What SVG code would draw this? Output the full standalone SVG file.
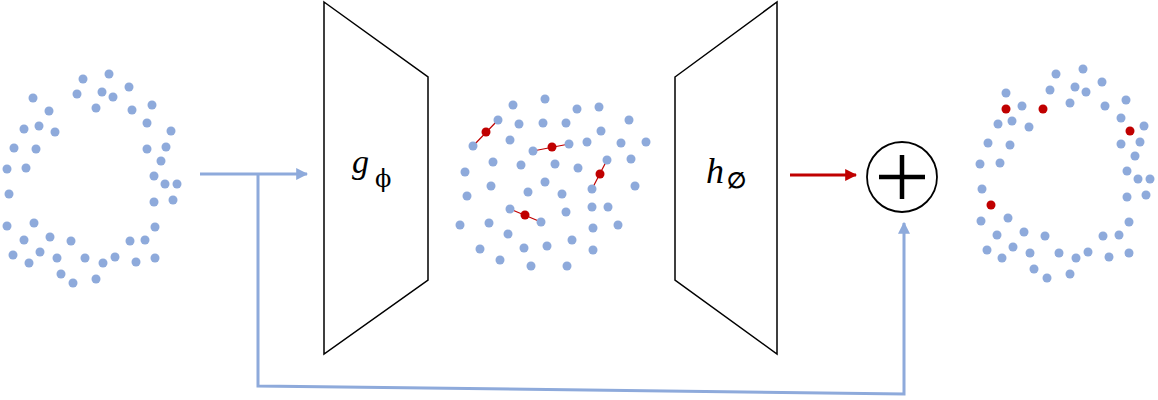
<svg xmlns="http://www.w3.org/2000/svg" width="1158" height="400" viewBox="0 0 1158 400">
<defs>
<style>
.b{fill:#8eaadb}
.r{fill:#c00000}
.trap{fill:#fff;stroke:#000;stroke-width:1.5}
.lbl{font-family:"Liberation Serif","DejaVu Serif",serif;font-style:italic;fill:#000}
.sub{font-family:"DejaVu Serif","Liberation Serif",serif;fill:#000}
.bl{fill:none;stroke:#8eaadb;stroke-width:3}
.rl{fill:none;stroke:#c00000;stroke-width:3}
.rthin{fill:none;stroke:#c00000;stroke-width:1.2}
</style>
<marker id="ab" viewBox="0 0 10 10" refX="9" refY="5" markerWidth="4" markerHeight="4" orient="auto" markerUnits="strokeWidth"><path d="M0,0 L10,5 L0,10 z" fill="#8eaadb"/></marker>
<marker id="ar" viewBox="0 0 10 10" refX="9" refY="5" markerWidth="4" markerHeight="4" orient="auto" markerUnits="strokeWidth"><path d="M0,0 L10,5 L0,10 z" fill="#c00000"/></marker>
</defs>
<rect width="1158" height="400" fill="#fff"/>

<g id="connectors">
<path class="bl" d="M200,174 L307,174" marker-end="url(#ab)"/>
<path class="bl" d="M258,174 L258,386 L904,394 L904,223" marker-end="url(#ab)"/>
<path class="rl" d="M790,175 L856,175" marker-end="url(#ar)"/>
</g>

<g id="input-ring">
<circle class="b" cx="83" cy="79" r="4.5"/><circle class="b" cx="109" cy="74" r="4.5"/><circle class="b" cx="33" cy="98" r="4.5"/><circle class="b" cx="77" cy="94" r="4.5"/><circle class="b" cx="102" cy="92" r="4.5"/><circle class="b" cx="113" cy="97" r="4.5"/><circle class="b" cx="129" cy="87" r="4.5"/><circle class="b" cx="49" cy="111" r="4.5"/><circle class="b" cx="96" cy="108" r="4.5"/><circle class="b" cx="132" cy="110" r="4.5"/><circle class="b" cx="152" cy="105" r="4.5"/><circle class="b" cx="24" cy="129" r="4.5"/><circle class="b" cx="39" cy="126" r="4.5"/><circle class="b" cx="55" cy="132" r="4.5"/><circle class="b" cx="147" cy="123" r="4.5"/><circle class="b" cx="171" cy="131" r="4.5"/><circle class="b" cx="14" cy="148" r="4.5"/><circle class="b" cx="36" cy="149" r="4.5"/><circle class="b" cx="147" cy="149" r="4.5"/><circle class="b" cx="166" cy="147" r="4.5"/><circle class="b" cx="161" cy="161" r="4.5"/><circle class="b" cx="7" cy="169" r="4.5"/><circle class="b" cx="26" cy="168" r="4.5"/><circle class="b" cx="154" cy="176" r="4.5"/><circle class="b" cx="165" cy="184" r="4.5"/><circle class="b" cx="177" cy="184" r="4.5"/><circle class="b" cx="9" cy="194" r="4.5"/><circle class="b" cx="154" cy="202" r="4.5"/><circle class="b" cx="173" cy="200" r="4.5"/><circle class="b" cx="7" cy="226" r="4.5"/><circle class="b" cx="34" cy="223" r="4.5"/><circle class="b" cx="155" cy="227" r="4.5"/><circle class="b" cx="24" cy="240" r="4.5"/><circle class="b" cx="50" cy="237" r="4.5"/><circle class="b" cx="71" cy="241" r="4.5"/><circle class="b" cx="130" cy="241" r="4.5"/><circle class="b" cx="145" cy="240" r="4.5"/><circle class="b" cx="13" cy="255" r="4.5"/><circle class="b" cx="40" cy="252" r="4.5"/><circle class="b" cx="29" cy="263" r="4.5"/><circle class="b" cx="57" cy="258" r="4.5"/><circle class="b" cx="85" cy="258" r="4.5"/><circle class="b" cx="103" cy="263" r="4.5"/><circle class="b" cx="115" cy="257" r="4.5"/><circle class="b" cx="136" cy="262" r="4.5"/><circle class="b" cx="155" cy="258" r="4.5"/><circle class="b" cx="61" cy="274" r="4.5"/><circle class="b" cx="73" cy="283" r="4.5"/><circle class="b" cx="96" cy="279" r="4.5"/>
</g>

<g id="encoder">
<polygon class="trap" points="324,2 428,77 428,280 324,354"/>
<text class="lbl" x="352" y="173" font-size="34">g</text>
<text class="sub" x="375" y="187" font-size="24">ϕ</text>
</g>

<g id="latent">
<path class="rthin" d="M498,120 L473,146 M533,151 L569,144 M607,160 L592,189 M510,209 L541,222"/>
<circle class="b" cx="513" cy="105" r="4.5"/><circle class="b" cx="545" cy="99" r="4.5"/><circle class="b" cx="577" cy="109" r="4.5"/><circle class="b" cx="599" cy="107" r="4.5"/><circle class="b" cx="498" cy="120" r="4.5"/><circle class="b" cx="519" cy="124" r="4.5"/><circle class="b" cx="543" cy="123" r="4.5"/><circle class="b" cx="566" cy="123" r="4.5"/><circle class="b" cx="629" cy="120" r="4.5"/><circle class="b" cx="473" cy="146" r="4.5"/><circle class="b" cx="510" cy="140" r="4.5"/><circle class="b" cx="601" cy="131" r="4.5"/><circle class="b" cx="533" cy="151" r="4.5"/><circle class="b" cx="569" cy="144" r="4.5"/><circle class="b" cx="587" cy="142" r="4.5"/><circle class="b" cx="621" cy="143" r="4.5"/><circle class="b" cx="646" cy="142" r="4.5"/><circle class="b" cx="493" cy="162" r="4.5"/><circle class="b" cx="521" cy="165" r="4.5"/><circle class="b" cx="555" cy="164" r="4.5"/><circle class="b" cx="578" cy="168" r="4.5"/><circle class="b" cx="607" cy="160" r="4.5"/><circle class="b" cx="631" cy="159" r="4.5"/><circle class="b" cx="465" cy="172" r="4.5"/><circle class="b" cx="545" cy="182" r="4.5"/><circle class="b" cx="491" cy="186" r="4.5"/><circle class="b" cx="635" cy="186" r="4.5"/><circle class="b" cx="467" cy="196" r="4.5"/><circle class="b" cx="528" cy="192" r="4.5"/><circle class="b" cx="562" cy="194" r="4.5"/><circle class="b" cx="592" cy="189" r="4.5"/><circle class="b" cx="510" cy="209" r="4.5"/><circle class="b" cx="541" cy="222" r="4.5"/><circle class="b" cx="566" cy="212" r="4.5"/><circle class="b" cx="592" cy="207" r="4.5"/><circle class="b" cx="608" cy="207" r="4.5"/><circle class="b" cx="460" cy="225" r="4.5"/><circle class="b" cx="489" cy="223" r="4.5"/><circle class="b" cx="508" cy="234" r="4.5"/><circle class="b" cx="593" cy="228" r="4.5"/><circle class="b" cx="618" cy="225" r="4.5"/><circle class="b" cx="480" cy="249" r="4.5"/><circle class="b" cx="524" cy="248" r="4.5"/><circle class="b" cx="547" cy="246" r="4.5"/><circle class="b" cx="572" cy="240" r="4.5"/><circle class="b" cx="593" cy="250" r="4.5"/><circle class="b" cx="500" cy="260" r="4.5"/><circle class="b" cx="531" cy="266" r="4.5"/><circle class="b" cx="567" cy="266" r="4.5"/>
<circle class="r" cx="486" cy="132" r="4.5"/><circle class="r" cx="552" cy="147" r="4.5"/><circle class="r" cx="600" cy="174" r="4.5"/><circle class="r" cx="525" cy="215" r="4.5"/>
</g>

<g id="decoder">
<polygon class="trap" points="675,77 777,2 777,354 675,280"/>
<text class="lbl" x="706" y="183" font-size="36">h</text>
<text class="sub" x="727" y="188" font-size="22" font-weight="bold">∅</text>
</g>

<g id="sum">
<circle cx="902" cy="177" r="35" fill="#fff" stroke="#000" stroke-width="1.8"/>
<path d="M879,177 L925,177 M902,155 L902,199" stroke="#000" stroke-width="4.5" fill="none"/>
</g>

<g id="output-ring">
<circle class="b" cx="1056" cy="74" r="4.5"/><circle class="b" cx="1083" cy="69" r="4.5"/><circle class="b" cx="1006" cy="93" r="4.5"/><circle class="b" cx="1050" cy="90" r="4.5"/><circle class="b" cx="1075" cy="87" r="4.5"/><circle class="b" cx="1086" cy="92" r="4.5"/><circle class="b" cx="1102" cy="82" r="4.5"/><circle class="b" cx="1022" cy="106" r="4.5"/><circle class="b" cx="1070" cy="103" r="4.5"/><circle class="b" cx="1105" cy="106" r="4.5"/><circle class="b" cx="1126" cy="100" r="4.5"/><circle class="b" cx="998" cy="124" r="4.5"/><circle class="b" cx="1012" cy="121" r="4.5"/><circle class="b" cx="1029" cy="127" r="4.5"/><circle class="b" cx="1121" cy="118" r="4.5"/><circle class="b" cx="1144" cy="126" r="4.5"/><circle class="b" cx="988" cy="143" r="4.5"/><circle class="b" cx="1010" cy="145" r="4.5"/><circle class="b" cx="1121" cy="144" r="4.5"/><circle class="b" cx="1140" cy="142" r="4.5"/><circle class="b" cx="1135" cy="156" r="4.5"/><circle class="b" cx="980" cy="164" r="4.5"/><circle class="b" cx="1000" cy="163" r="4.5"/><circle class="b" cx="1127" cy="171" r="4.5"/><circle class="b" cx="1138" cy="179" r="4.5"/><circle class="b" cx="1150" cy="179" r="4.5"/><circle class="b" cx="982" cy="189" r="4.5"/><circle class="b" cx="1127" cy="197" r="4.5"/><circle class="b" cx="1146" cy="195" r="4.5"/><circle class="b" cx="981" cy="221" r="4.5"/><circle class="b" cx="1008" cy="218" r="4.5"/><circle class="b" cx="1129" cy="222" r="4.5"/><circle class="b" cx="997" cy="235" r="4.5"/><circle class="b" cx="1024" cy="232" r="4.5"/><circle class="b" cx="1045" cy="236" r="4.5"/><circle class="b" cx="1103" cy="236" r="4.5"/><circle class="b" cx="1119" cy="235" r="4.5"/><circle class="b" cx="987" cy="250" r="4.5"/><circle class="b" cx="1013" cy="247" r="4.5"/><circle class="b" cx="1030" cy="253" r="4.5"/><circle class="b" cx="1059" cy="253" r="4.5"/><circle class="b" cx="1076" cy="258" r="4.5"/><circle class="b" cx="1088" cy="252" r="4.5"/><circle class="b" cx="1109" cy="257" r="4.5"/><circle class="b" cx="1129" cy="253" r="4.5"/><circle class="b" cx="1002" cy="258" r="4.5"/><circle class="b" cx="1034" cy="269" r="4.5"/><circle class="b" cx="1047" cy="278" r="4.5"/><circle class="b" cx="1070" cy="274" r="4.5"/>
<circle class="r" cx="1006" cy="109" r="4.5"/><circle class="r" cx="1043" cy="109" r="4.5"/><circle class="r" cx="1130" cy="131" r="4.5"/><circle class="r" cx="991" cy="205" r="4.5"/>
</g>
</svg>
